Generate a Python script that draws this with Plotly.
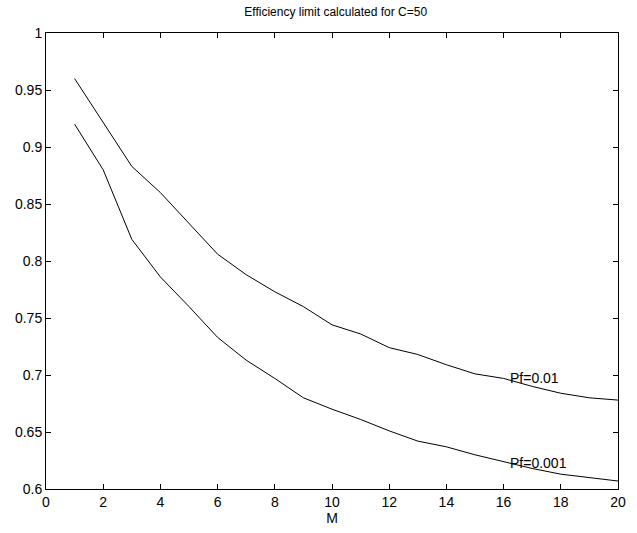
import plotly.graph_objects as go

M = list(range(1, 21))
pf01 = [0.960, 0.921, 0.883, 0.860, 0.833, 0.806, 0.788, 0.773, 0.760, 0.744,
        0.736, 0.724, 0.718, 0.709, 0.701, 0.697, 0.690, 0.684, 0.680, 0.678]
pf001 = [0.920, 0.880, 0.819, 0.786, 0.760, 0.733, 0.713, 0.697, 0.680, 0.670,
         0.661, 0.651, 0.642, 0.637, 0.630, 0.624, 0.618, 0.613, 0.610, 0.607]
labels = ["Pf=0.01", "Pf=0.001"]
label_x = [16, 16]
label_y = [0.697, 0.623]

font = "Liberation Sans, Arial, sans-serif"
fig = go.Figure()
for ys in (pf01, pf001):
    fig.add_trace(go.Scatter(x=M, y=ys, mode="lines",
                             line=dict(color="black", width=1), showlegend=False))
for t, lx, ly in zip(labels, label_x, label_y):
    fig.add_annotation(x=lx, y=ly, text=t, showarrow=False, xanchor="left",
                       xshift=4, yanchor="middle",
                       font=dict(family=font, size=14, color="black"))

axis_common = dict(showline=True, linecolor="black", linewidth=1, mirror="ticks",
                   ticks="inside", ticklen=5, tickcolor="black", showgrid=False,
                   zeroline=False, tickfont=dict(family=font, size=14, color="black"))
fig.update_xaxes(range=[0, 20], dtick=2, tick0=0,
                 title=dict(text="M", standoff=2, font=dict(family=font, size=14, color="black")),
                 **axis_common)
fig.update_yaxes(range=[0.6, 1], dtick=0.05, tick0=0.6, **axis_common)
fig.update_layout(
    width=637, height=533,
    margin=dict(l=46, r=11, t=33, b=42),
    paper_bgcolor="white", plot_bgcolor="white",
    title=dict(text="Efficiency limit calculated for C=50", x=0.527, xanchor="center",
               y=1 - 12 / 533, yanchor="middle", yref="container",
               font=dict(family=font, size=12, color="black")),
)
fig.write_html("out.html")
